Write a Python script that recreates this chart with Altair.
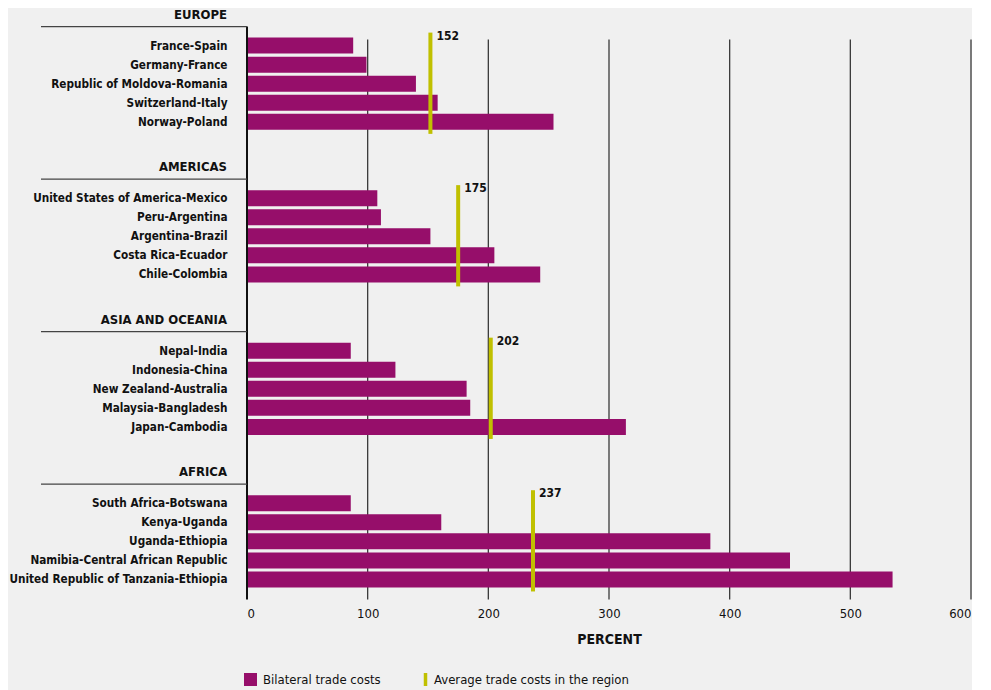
import altair as alt
import pandas as pd

regions = ["EUROPE", "AMERICAS", "ASIA AND OCEANIA", "AFRICA"]
europe_pairs = ["France-Spain", "Germany-France", "Republic of Moldova-Romania",
                "Switzerland-Italy", "Norway-Poland"]
europe_costs = [88, 99, 140, 158, 254]
americas_pairs = ["United States of America-Mexico", "Peru-Argentina", "Argentina-Brazil",
                  "Costa Rica-Ecuador", "Chile-Colombia"]
americas_costs = [108, 111, 152, 205, 243]
asia_pairs = ["Nepal-India", "Indonesia-China", "New Zealand-Australia",
              "Malaysia-Bangladesh", "Japan-Cambodia"]
asia_costs = [86, 123, 182, 185, 314]
africa_pairs = ["South Africa-Botswana", "Kenya-Uganda", "Uganda-Ethiopia",
                "Namibia-Central African Republic", "United Republic of Tanzania-Ethiopia"]
africa_costs = [86, 161, 384, 450, 535]
region_averages = [152, 175, 202, 237]
x_ticks = [0, 100, 200, 300, 400, 500, 600]

SERIES_BAR = "Bilateral trade costs"
SERIES_AVG = "Average trade costs in the region"

PURPLE = "#960E6A"
YELLOW = "#C0C000"
BG = "#F0F0F0"
FONT = "DejaVu Sans Condensed, Liberation Sans Narrow, Roboto, sans-serif"
LBL = 11.7

groups = [europe_pairs, americas_pairs, asia_pairs, africa_pairs]
costs = [europe_costs, americas_costs, asia_costs, africa_costs]

# Band-scale domain: header slot, 5 bars, two spacer slots per region
domain = []
bar_rows, avg_rows, head_rows = [], [], []
for gi, (reg, pairs, vals, avg) in enumerate(zip(regions, groups, costs, region_averages)):
    head = "_" + reg
    domain.append(head)
    head_rows.append({"region": reg, "slot": head})
    for p, v in zip(pairs, vals):
        domain.append(p)
        bar_rows.append({"region": reg, "pair": p, "cost": v, "series": SERIES_BAR})
    avg_rows.append({"region": reg, "avg": avg, "first": pairs[0], "last": pairs[-1],
                     "series": SERIES_AVG, "label": str(avg)})
    if gi < len(regions) - 1:
        domain.append("_sp1_" + reg)
        domain.append("_sp2_" + reg)

bars_df = pd.DataFrame(bar_rows)
avg_df = pd.DataFrame(avg_rows)
head_df = pd.DataFrame(head_rows)
grid_df = pd.DataFrame({"tick": x_ticks[1:], "top": europe_pairs[0], "bottom": africa_pairs[-1]})
zero_df = pd.DataFrame({"tick": [0], "top": ["_" + regions[0]], "bottom": [africa_pairs[-1]]})

xscale = alt.Scale(domain=[0, 600], nice=False, zero=True)
yscale = alt.Scale(domain=domain, paddingInner=0.16, paddingOuter=0.08)

bar_legend = alt.Legend(
    title=None, orient="none", legendX=-3, legendY=656, direction="horizontal",
    labelFont=FONT, labelFontSize=13, labelColor="#111", symbolSize=169, labelLimit=400,
    symbolType="square", symbolStrokeWidth=0, labelOffset=6,
)
avg_legend = alt.Legend(
    title=None, orient="none", legendX=170, legendY=654, direction="horizontal",
    labelFont=FONT, labelFontSize=13, labelColor="#111", symbolSize=169, labelLimit=400,
    symbolType="M0,-1V1", symbolStrokeWidth=3.5, labelOffset=0,
)

grid = alt.Chart(grid_df).mark_rule(color="#3a3a3a", strokeWidth=1.3, yOffset=-6, y2Offset=20).encode(
    x=alt.X("tick:Q", scale=xscale),
    y=alt.Y("top:N", scale=yscale),
    y2="bottom:N",
)

bars = alt.Chart(bars_df).mark_bar(opacity=1).encode(
    x=alt.X("cost:Q", scale=xscale,
            axis=alt.Axis(values=x_ticks, title="PERCENT", grid=False, ticks=False, domain=False,
                          labelFont=FONT, labelFontSize=13, labelColor="#111", labelPadding=18,
                          titleFont=FONT, titleFontSize=14, titleFontWeight="bold",
                          titleColor="#111", titlePadding=12)),
    y=alt.Y("pair:N", scale=yscale, sort=domain,
            axis=alt.Axis(title=None, ticks=False, domain=False, grid=False,
                          labelFont=FONT, labelFontSize=LBL, labelFontWeight="bold",
                          labelColor="#111", labelPadding=20, labelLimit=400,
                          labelExpr="indexof(datum.value, '_') === 0 ? '' : datum.value")),
    fill=alt.Fill("series:N", scale=alt.Scale(domain=[SERIES_BAR], range=[PURPLE]), legend=bar_legend),
)

zero_line = alt.Chart(zero_df).mark_rule(color="#111", strokeWidth=2, y2Offset=20).encode(
    x=alt.X("tick:Q", scale=xscale),
    y=alt.Y("top:N", scale=yscale),
    y2="bottom:N",
)

head_lines = alt.Chart(head_df).mark_rule(color="#444", strokeWidth=1.2).encode(
    x=alt.value(-206), x2=alt.value(0),
    y=alt.Y("slot:N", scale=yscale),
)

head_text = alt.Chart(head_df).mark_text(
    align="right", baseline="middle", dy=-12, font=FONT, fontSize=13, fontWeight="bold", color="#111"
).encode(
    x=alt.value(-20),
    y=alt.Y("slot:N", scale=yscale),
    text="region:N",
)

avg_rule = alt.Chart(avg_df).mark_rule(strokeWidth=4, yOffset=-13, y2Offset=12).encode(
    x=alt.X("avg:Q", scale=xscale),
    y=alt.Y("first:N", scale=yscale),
    y2="last:N",
    stroke=alt.Stroke("series:N", scale=alt.Scale(domain=[SERIES_AVG], range=[YELLOW]), legend=avg_legend),
)

avg_text = alt.Chart(avg_df).mark_text(
    align="left", baseline="middle", dx=6, dy=-10, font=FONT, fontSize=12, fontWeight="bold", color="#111"
).encode(
    x=alt.X("avg:Q", scale=xscale),
    y=alt.Y("first:N", scale=yscale),
    text="label:N",
)

chart = alt.layer(grid, bars, zero_line, head_lines, head_text, avg_rule, avg_text).properties(
    width=724, height=572, background=BG, padding=0
).configure_view(stroke=None)

chart.save("out.html", embed_options={"renderer": "svg", "actions": False})
